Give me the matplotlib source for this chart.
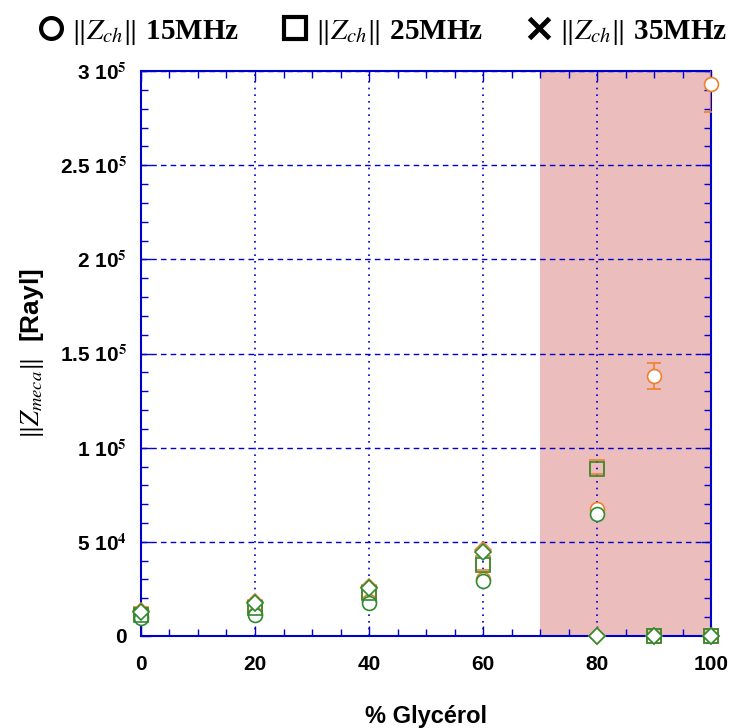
import matplotlib
matplotlib.use("Agg")
import matplotlib.pyplot as plt
import numpy as np
from matplotlib.lines import Line2D
from matplotlib.ticker import MultipleLocator, FixedLocator

plt.rcParams["font.family"] = ["Liberation Sans", "DejaVu Sans"]
plt.rcParams["mathtext.fontset"] = "stix"

glycerol = [0, 20, 40, 60, 80, 90, 100]

# orange layer (hidden under green where they coincide)
orange_circle = [10.6e3, 11.5e3, 18.5e3, 30.5e3, 67.5e3, 138e3, 293e3]
orange_circle_err = [0, 0, 0, 0, 0, 7e3, 15e3]
orange_square = [11.5e3, 15.5e3, 23.5e3, 39e3, 90e3, 0, 0]
orange_diamond = [13.5e3, 18e3, 26e3, 45.5e3, 0, 0, 0]

# green layer
green_circle = [9.5e3, 11e3, 17.5e3, 29e3, 65e3]
green_square = [11e3, 15e3, 23e3, 37.5e3, 88.5e3, 0, 0]
green_diamond = [13e3, 17.5e3, 25.5e3, 44.5e3, 0, 0, 0]

legend_labels = [r"$\Vert Z_{ch}\Vert$ 15MHz", r"$\Vert Z_{ch}\Vert$ 25MHz", r"$\Vert Z_{ch}\Vert$ 35MHz"]
yticks = [0, 5e4, 1e5, 1.5e5, 2e5, 2.5e5, 3e5]
ytick_labels = ["0", r"5 10$^{\mathbf{4}}$", r"1 10$^{\mathbf{5}}$", r"1.5 10$^{\mathbf{5}}$",
                r"2 10$^{\mathbf{5}}$", r"2.5 10$^{\mathbf{5}}$", r"3 10$^{\mathbf{5}}$"]

orange = "#f07f2e"
green = "#2e8b2e"
blue = "#0000cc"

fig = plt.figure(figsize=(7.34, 7.28), dpi=100)
ax = fig.add_axes([0.192, 0.1264, 0.777, 0.776])

ax.axvspan(70, 100, color="#ebbdbd", zorder=0, lw=0)

ms = 10
# error bars clipped to the axes, markers allowed to overflow
ax.errorbar(glycerol, orange_circle, yerr=orange_circle_err, fmt="none", ecolor=orange,
            capsize=5, elinewidth=1.2, capthick=1.2, zorder=3)
ax.plot(glycerol, orange_circle, "o", ms=ms, mfc="white", mec=orange, mew=1.2, zorder=3, clip_on=False)
ax.plot(glycerol, orange_square, "s", ms=ms, mfc="none", mec=orange, mew=1.2, zorder=3, clip_on=False)
ax.plot(glycerol, orange_diamond, "D", ms=ms * 0.8, mfc="white", mec=orange, mew=1.2, zorder=3, clip_on=False)

ax.plot(glycerol[:5], green_circle, "o", ms=ms, mfc="white", mec=green, mew=1.2, zorder=4, clip_on=False)
ax.plot(glycerol, green_square, "s", ms=ms, mfc="none", mec=green, mew=1.2, zorder=4, clip_on=False)
ax.plot(glycerol, green_diamond, "D", ms=ms * 0.8, mfc="white", mec=green, mew=1.2, zorder=5, clip_on=False)

ax.set_xlim(0, 100)
ax.set_ylim(0, 3e5)
ax.xaxis.set_major_locator(MultipleLocator(20))
ax.xaxis.set_minor_locator(MultipleLocator(5))
ax.yaxis.set_major_locator(FixedLocator(yticks))
ax.yaxis.set_minor_locator(MultipleLocator(1e4))
ax.set_yticklabels(ytick_labels)

ax.grid(True, which="major", axis="x", color=blue, linestyle=(0, (1, 3)), lw=1.2)
ax.grid(True, which="major", axis="y", color=blue, linestyle=(0, (4, 3)), lw=1)
ax.set_axisbelow(False)
for sp in ax.spines.values():
    sp.set_color(blue)
    sp.set_linewidth(1.5)
ax.tick_params(which="both", direction="in", top=True, right=True, color=blue, labelsize=15)
ax.tick_params(axis="x", pad=14)
ax.tick_params(axis="y", pad=10)
ax.tick_params(which="major", length=7, width=1)
ax.tick_params(which="minor", length=5, width=1)
for lab in ax.get_xticklabels() + ax.get_yticklabels():
    lab.set_fontweight("bold")

ax.set_xlabel("% Glycérol", fontsize=17, fontweight="bold", labelpad=22)
ax.set_ylabel(r"$\Vert Z_{meca}\Vert$  [Rayl]", fontsize=19, fontweight="bold", labelpad=10)

handles = [
    Line2D([], [], marker="o", ls="none", mfc="none", mec="black", mew=3, ms=15),
    Line2D([], [], marker="s", ls="none", mfc="none", mec="black", mew=3, ms=16),
    Line2D([], [], marker="x", ls="none", color="black", mew=3.5, ms=15),
]
fig.legend(handles, legend_labels, loc="upper center", bbox_to_anchor=(0.52, 1.012), ncol=3,
           frameon=False, prop={"family": "Liberation Serif", "weight": "bold", "size": 21},
           handletextpad=0.2, columnspacing=1.4, handlelength=1.0)

fig.savefig("out.png", dpi=100)
